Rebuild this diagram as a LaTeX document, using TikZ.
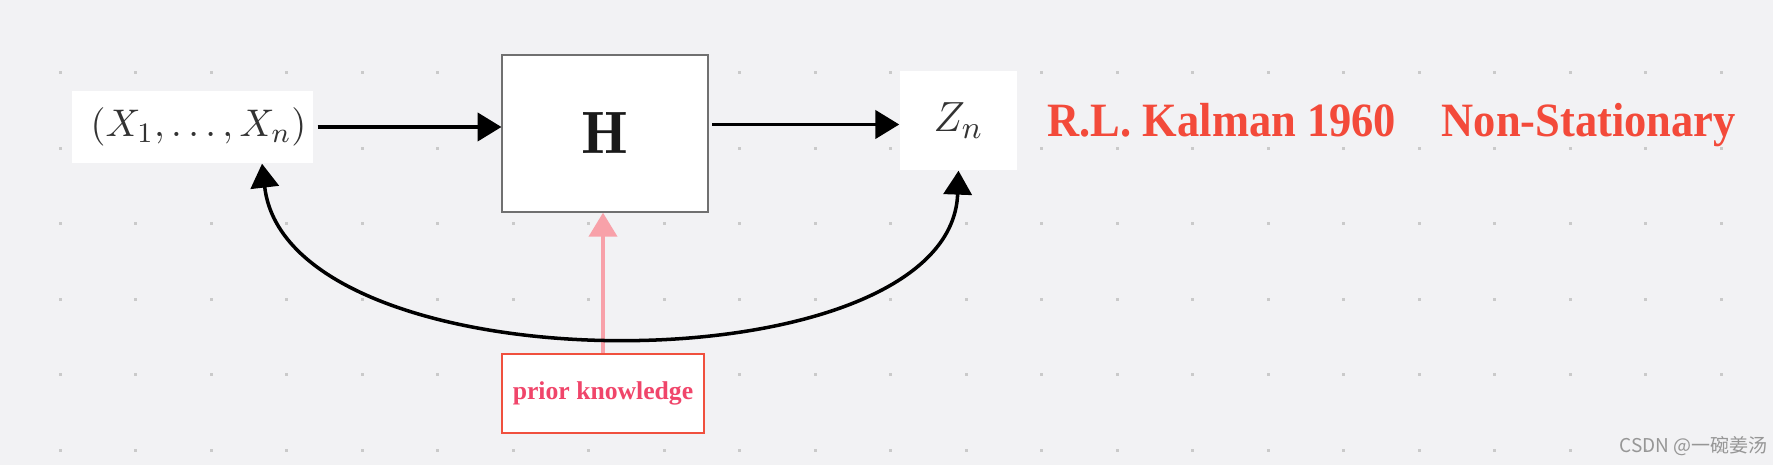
\documentclass[tikz,border=0pt]{standalone}
\usepackage{amsmath}
\usepackage{fontspec}
\usepackage{tikz}
\usetikzlibrary{arrows.meta,positioning}
\newfontfamily\headfont[FakeStretch=0.93]{Liberation Serif}
\newfontfamily\notefont{Liberation Serif}
\newfontfamily\cjkfont{Noto Sans CJK SC}
\definecolor{bggray}{RGB}{242,242,244}
\definecolor{dotgray}{RGB}{202,202,202}
\definecolor{boxgray}{RGB}{112,112,112}
\definecolor{mathgray}{RGB}{51,51,51}
\definecolor{headred}{RGB}{243,74,58}
\definecolor{priorred}{RGB}{240,80,62}
\definecolor{priortext}{RGB}{240,69,106}
\definecolor{priorpink}{RGB}{248,161,169}
\definecolor{markgray}{RGB}{150,150,150}

\begin{document}
\begin{tikzpicture}[x=0.01cm,y=-0.01cm,
  whitebox/.style={fill=white,inner sep=0pt},
  arr/.style={line width=1.1pt,-{Triangle[length=6.8pt,width=8pt]}}]
% Canvas
\useasboundingbox (0,0) rectangle (1773,465);
\fill[bggray] (0,0) rectangle (1773,465);
% Dot grid
\foreach \i in {0,...,22} {\foreach \j in {0,...,5} {\fill[dotgray] (60+75.5*\i-1.5,73+75.5*\j-1.5) rectangle ++(3,3);}}
% Input, system and output
\node[whitebox,minimum width=2.41cm,minimum height=0.72cm,text=mathgray] (xs) at (192.5,127) {\hspace*{0.12cm}\fontsize{10.8}{13}\selectfont$(X_1,\ldots,X_n)$};
\node[whitebox,draw=boxgray,line width=0.55pt,minimum width=2.05cm,minimum height=1.565cm,text=black!90] (H) at (605,133.5) {\fontsize{17}{20}\selectfont$\mathbf{H}$};
\node[whitebox,minimum width=1.17cm,minimum height=0.99cm,text=mathgray] (zn) at (958.5,120.5) {\fontsize{13.2}{16}\selectfont$Z_n$};
% Title
\node[anchor=base west,inner sep=0pt,text=headred] (title) at (1047,137) {\headfont\bfseries\fontsize{13.6}{16}\selectfont R.L. Kalman 1960\hspace{13pt}Non-Stationary};
% Prior knowledge
\node[whitebox,draw=priorred,line width=0.6pt,minimum width=2.02cm,minimum height=0.79cm,text=priortext] (prior) at (603,393.5) {\notefont\bfseries\fontsize{7.3}{9}\selectfont prior knowledge};
% Arrows
\draw[arr,shorten <=1.1pt] (xs) -- (xs -| H.west);
\draw[arr,shorten <=1pt] ([yshift=-0.04cm]zn.west -| H.east) -- ([yshift=-0.04cm]zn.west);
\draw[arr,priorpink,line width=1pt] (prior) -- (prior |- H.south);
\draw[line width=1pt,{Triangle[length=6.8pt,width=8pt]}-{Triangle[length=6.8pt,width=8pt]}] ([xshift=0.695cm]xs.south) .. controls +(0.26cm,-2.27cm) and +(-0.08cm,-2.2cm) .. (zn.south);
% Watermark
\node[anchor=west,inner sep=0pt,text=markgray] (mark) at (1619,446) {\cjkfont\fontsize{5.4}{6.5}\selectfont CSDN @一碗姜汤};
\end{tikzpicture}
\end{document}
